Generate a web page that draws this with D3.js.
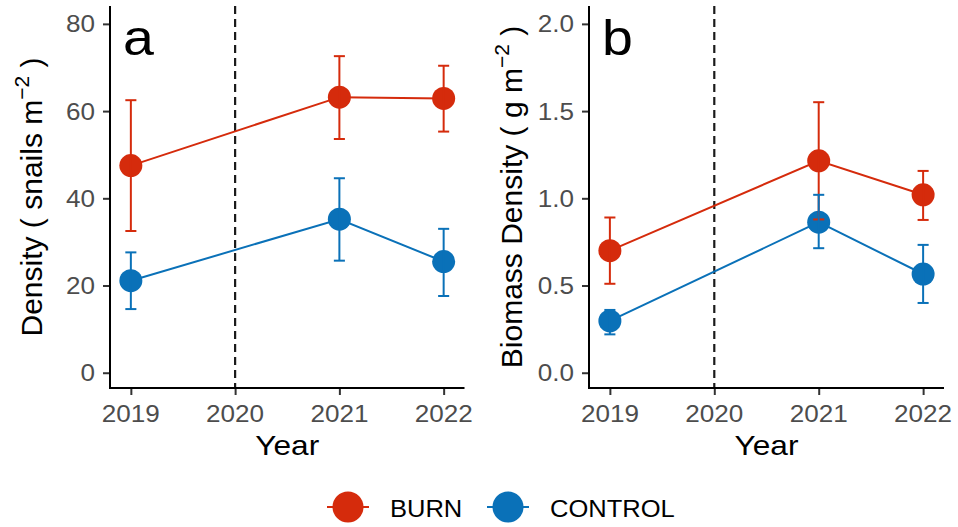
<!DOCTYPE html>
<html><head><meta charset="utf-8">
<script src="https://cdn.jsdelivr.net/npm/d3@7"></script>
<style>body{margin:0;background:#fff}text{font-family:"Liberation Sans",Arial,sans-serif}</style>
</head><body>
<svg id="c" width="958" height="527"></svg>
<script>
// ---- data ----
const years = [2019, 2021, 2022];
const xTicks = [2019, 2020, 2021, 2022];
const seriesNames = ["BURN", "CONTROL"];
const seriesColors = ["#D52B0C", "#0A71B8"];

const densityBurn      = [47.5, 63.2, 62.9];
const densityBurnLo    = [32.5, 53.6, 55.3];
const densityBurnHi    = [62.5, 72.6, 70.4];
const densityControl   = [21.1, 35.2, 25.5];
const densityControlLo = [14.6, 25.7, 17.6];
const densityControlHi = [27.6, 44.6, 33.0];
const densityTicks = [0, 20, 40, 60, 80];

const biomassBurn      = [0.70, 1.215, 1.02];
const biomassBurnLo    = [0.51, 0.879, 0.876];
const biomassBurnHi    = [0.89, 1.551, 1.157];
const biomassControl   = [0.297, 0.863, 0.566];
const biomassControlLo = [0.22, 0.714, 0.40];
const biomassControlHi = [0.36, 1.02, 0.733];
const biomassTicks = [0.0, 0.5, 1.0, 1.5, 2.0];

// ---- layout ----
const svg = d3.select("#c");
const SX = 1.11; // horizontal stretch seen in the picture
const panels = [
  {letter:"a", left:110, right:464.5, yDomain:[-3.5, 84.1], ticks:densityTicks, fmt:d3.format("d"),
   title:["Density ( snails m", "\u22122", " )"], titleX:42,
   series:[[densityBurn,densityBurnLo,densityBurnHi],[densityControl,densityControlLo,densityControlHi]]},
  {letter:"b", left:589, right:944, yDomain:[-0.0875, 2.1025], ticks:biomassTicks, fmt:d3.format(".1f"),
   title:["Biomass Density ( g m", "\u22122", " )"], titleX:522,
   series:[[biomassBurn,biomassBurnLo,biomassBurnHi],[biomassControl,biomassControlLo,biomassControlHi]]}
];
const pTop = 6, pBottom = 388;

function stretchText(g, x, y, txt, size, anchor, color) {
  return g.append("text").attr("transform", `translate(${x},${y}) scale(${SX},1)`)
    .attr("text-anchor", anchor).attr("font-size", size).attr("fill", color).text(txt);
}

panels.forEach(p => {
  const x = d3.scaleLinear().domain([2018.8, 2022.2]).range([p.left, p.right]);
  const y = d3.scaleLinear().domain(p.yDomain).range([pBottom, pTop]);
  const g = svg.append("g");

  // dashed line at 2020
  g.append("line").attr("x1", x(2020)).attr("x2", x(2020)).attr("y1", pTop).attr("y2", pBottom)
    .attr("stroke", "#1a1a1a").attr("stroke-width", 2.2).attr("stroke-dasharray", "8,5");

  // axes
  const yAxis = g.append("g").attr("transform", `translate(${p.left},0)`)
    .call(d3.axisLeft(y).tickValues(p.ticks).tickFormat(p.fmt).tickSize(7).tickPadding(8));
  const xAxis = g.append("g").attr("transform", `translate(0,${pBottom})`)
    .call(d3.axisBottom(x).tickValues(xTicks).tickFormat(d3.format("d")).tickSize(7).tickPadding(4));
  [yAxis, xAxis].forEach(a => {
    a.select(".domain").remove();
    a.selectAll(".tick line").attr("stroke", "#333").attr("stroke-width", 2);
    a.selectAll(".tick text").remove();
  });
  // tick labels (stretched)
  p.ticks.forEach(t => stretchText(g, p.left - 15, y(t) + 8.5, p.fmt(t), 23.5, "end", "#4D4D4D"));
  xTicks.forEach(t => stretchText(g, x(t), pBottom + 33.5, d3.format("d")(t), 23.5, "middle", "#4D4D4D"));

  // axis lines
  g.append("line").attr("x1", p.left).attr("x2", p.left).attr("y1", pTop).attr("y2", pBottom + 1)
    .attr("stroke", "#000").attr("stroke-width", 2);
  g.append("line").attr("x1", p.left - 1).attr("x2", p.right).attr("y1", pBottom).attr("y2", pBottom)
    .attr("stroke", "#000").attr("stroke-width", 2);

  // titles
  stretchText(g, (p.left + p.right) / 2, 455, "Year", 28.5, "middle", "#000");
  const yt = g.append("text").attr("transform", `translate(${p.titleX},${(pTop + pBottom) / 2}) rotate(-90)`)
    .attr("text-anchor", "middle").attr("font-size", 30).attr("fill", "#000");
  yt.append("tspan").text(p.title[0]);
  yt.append("tspan").attr("dy", -13).attr("font-size", 21).text(p.title[1]);
  yt.append("tspan").attr("dy", 13).text(p.title[2]);

  // panel letter
  stretchText(g, p.left + 13, 55, p.letter, 50, "start", "#000");

  // series
  const line = d3.line().x(d => x(d.year)).y(d => y(d.v));
  p.series.forEach((s, si) => {
    const col = seriesColors[si];
    const data = years.map((yr, i) => ({year: yr, v: s[0][i], lo: s[1][i], hi: s[2][i]}));
    g.append("path").datum(data).attr("d", line).attr("fill", "none").attr("stroke", col).attr("stroke-width", 2);
  });
  p.series.forEach((s, si) => {
    const col = seriesColors[si];
    years.forEach((yr, i) => {
      g.append("circle").attr("cx", x(yr)).attr("cy", y(s[0][i])).attr("r", 11.5).attr("fill", col);
    });
  });
  p.series.forEach((s, si) => {
    const col = seriesColors[si];
    years.forEach((yr, i) => {
      const eb = g.append("g").attr("stroke", col).attr("stroke-width", 2);
      eb.append("line").attr("x1", x(yr)).attr("x2", x(yr)).attr("y1", y(s[1][i])).attr("y2", y(s[2][i]));
      [s[1][i], s[2][i]].forEach(v => eb.append("line")
        .attr("x1", x(yr - 0.053)).attr("x2", x(yr + 0.053)).attr("y1", y(v)).attr("y2", y(v)));
    });
  });
});

// legend
const legX = [348, 508];
seriesNames.forEach((name, i) => {
  const lg = svg.append("g");
  lg.append("line").attr("x1", legX[i] - 21).attr("x2", legX[i] + 21).attr("y1", 507).attr("y2", 507)
    .attr("stroke", seriesColors[i]).attr("stroke-width", 2);
  lg.append("circle").attr("cx", legX[i]).attr("cy", 507).attr("r", 15.5).attr("fill", seriesColors[i]);
  stretchText(lg, legX[i] + 42, 516.5, name, 23, "start", "#000");
});
</script>
</body></html>
